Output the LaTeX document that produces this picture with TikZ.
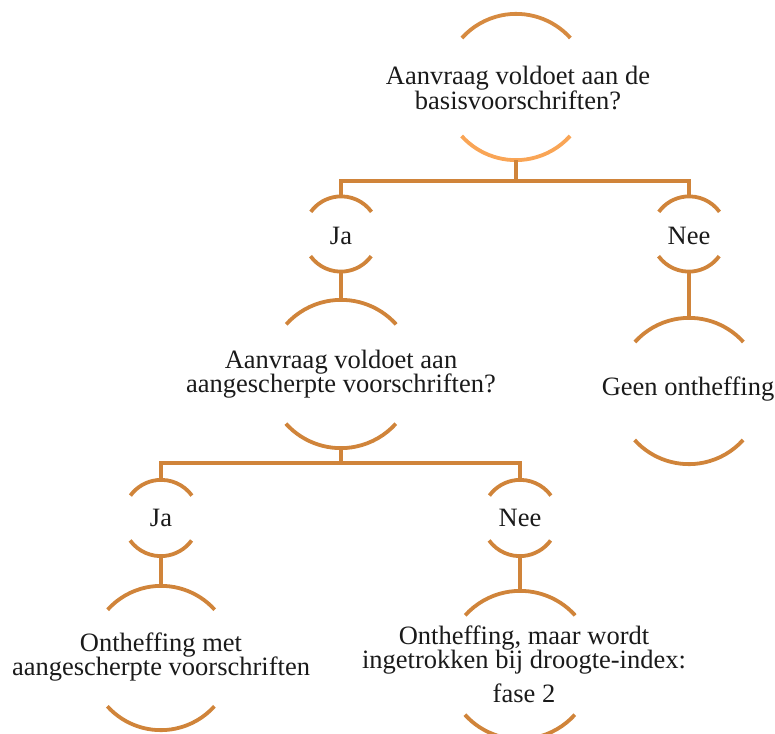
\documentclass[tikz,border=0pt]{standalone}
\usepackage{fontspec}
\setmainfont{Liberation Serif}
\definecolor{arcc}{HTML}{D0843A}
\definecolor{arct}{HTML}{D68A40}
\definecolor{arcl}{HTML}{F9A556}
\definecolor{txtc}{HTML}{1A1A1A}
\begin{document}
\begin{tikzpicture}[x=1pt,y=1pt,
  circ/.style={circle,draw=none,inner sep=0pt,minimum size=#1},
  arcline/.style={draw=arcc,line width=3.8pt},
  conn/.style={draw=arcc,line width=3.8pt},
  txt/.style={align=center,inner sep=0pt,text=txtc,font=\fontsize{26.5}{24.5}\selectfont}]
\useasboundingbox (0,0) rectangle (775,-733);
% circles (invisible carriers)
\node[circ=146pt] (q1) at (516,-87) {};
\node[circ=75pt] (ja1) at (341,-234) {};
\node[circ=75pt] (nee1) at (689,-234) {};
\node[circ=148pt] (q2) at (341,-374) {};
\node[circ=146pt] (geen) at (689,-391) {};
\node[circ=76pt] (ja2) at (161,-518) {};
\node[circ=76pt] (nee2) at (520,-518) {};
\node[circ=144pt] (r1) at (161,-658) {};
\node[circ=148pt] (r2) at (520,-665) {};
% texts
\node[txt] (q1t) at (518,-88) {Aanvraag voldoet aan de\\basisvoorschriften?};
\node[txt] (ja1t) at (341,-236) {Ja};
\node[txt] (nee1t) at (689,-236) {Nee};
\node[txt] (q2t) at (341,-374) {Aanvraag voldoet aan\\aangescherpte voorschriften?};
\node[txt] (geent) at (688,-389) {Geen ontheffing};
\node[txt] (ja2t) at (161,-518) {Ja};
\node[txt] (nee2t) at (520,-518) {Nee};
\node[txt] (r1t) at (161,-657) {Ontheffing met\\aangescherpte voorschriften};
\node[txt] (r2t) at (524,-664) {Ontheffing, maar wordt\\ingetrokken bij droogte-index:\\[9pt]fase 2};
% arcs
\draw[arcline,draw=arct] (q1.42) arc[start angle=42,end angle=138,radius=73pt];
\draw[arcline,draw=arcl] (q1.222) arc[start angle=222,end angle=318,radius=73pt];
\foreach \n/\r in {ja1/37.5,nee1/37.5,ja2/38,nee2/38}{
  \draw[arcline] (\n.36) arc[start angle=36,end angle=144,radius=\r pt];
  \draw[arcline] (\n.216) arc[start angle=216,end angle=324,radius=\r pt];
}
\foreach \n/\r in {q2/74,geen/73,r1/72,r2/74}{
  \draw[arcline] (\n.42) arc[start angle=42,end angle=138,radius=\r pt];
  \draw[arcline] (\n.222) arc[start angle=222,end angle=318,radius=\r pt];
}
% connectors
\draw[conn] (q1.south) -- ++(0,-21) coordinate (b1);
\draw[conn] (b1) -| (ja1.north);
\draw[conn] (b1) -| (nee1.north);
\draw[conn] (ja1.south) -- (q2.north);
\draw[conn] (nee1.south) -- (geen.north);
\draw[conn] (q2.south) -- ++(0,-15) coordinate (b2);
\draw[conn] (b2) -| (ja2.north);
\draw[conn] (b2) -| (nee2.north);
\draw[conn] (ja2.south) -- (r1.north);
\draw[conn] (nee2.south) -- (r2.north);
\end{tikzpicture}
\end{document}
